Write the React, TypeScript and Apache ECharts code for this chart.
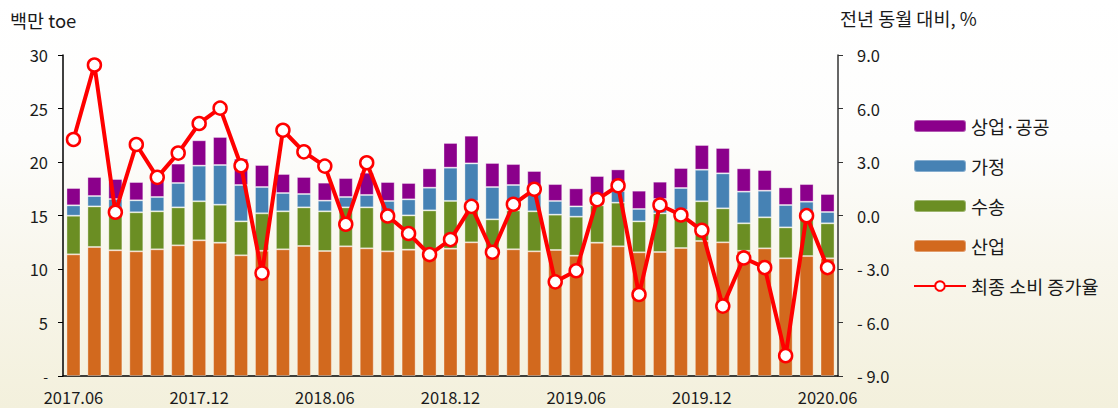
import React, { useEffect, useRef } from "react";
import * as echarts from "echarts";

const months: string[] = [
  "2017.06", "2017.07", "2017.08", "2017.09", "2017.10", "2017.11", "2017.12",
  "2018.01", "2018.02", "2018.03", "2018.04", "2018.05", "2018.06", "2018.07",
  "2018.08", "2018.09", "2018.10", "2018.11", "2018.12", "2019.01", "2019.02",
  "2019.03", "2019.04", "2019.05", "2019.06", "2019.07", "2019.08", "2019.09",
  "2019.10", "2019.11", "2019.12", "2020.01", "2020.02", "2020.03", "2020.04",
  "2020.05", "2020.06",
];

// 산업 (industry)
const industry: number[] = [
  11.37, 12.06, 11.75, 11.65, 11.84, 12.21, 12.68, 12.46, 11.28, 11.7, 11.84, 12.15,
  11.68, 12.12, 11.93, 11.65, 11.81, 11.7, 11.9, 12.49, 11.6, 11.84, 11.65, 11.78,
  11.25, 12.46, 12.12, 11.56, 11.59, 11.96, 12.62, 12.49, 11.7, 11.93, 11.0, 11.21, 11.0,
];
// 수송 (transport)
const transport: number[] = [
  3.61, 3.79, 3.85, 3.65, 3.55, 3.55, 3.65, 3.55, 3.17, 3.5, 3.55, 3.61,
  3.71, 3.64, 3.83, 3.62, 3.2, 3.78, 4.46, 3.84, 3.04, 3.64, 3.74, 3.3,
  3.64, 3.49, 4.08, 2.89, 3.61, 3.55, 3.71, 3.18, 2.57, 2.9, 2.89, 3.62, 3.27,
];
// 가정 (household)
const household: number[] = [
  0.97, 0.97, 0.94, 1.12, 1.34, 2.28, 3.33, 3.71, 3.4, 2.46, 1.71, 1.25,
  1.0, 0.97, 1.16, 1.09, 1.5, 2.12, 3.11, 3.54, 3.02, 2.37, 1.9, 1.28,
  0.96, 0.93, 1.09, 1.16, 1.34, 2.06, 2.95, 3.27, 2.96, 2.49, 2.09, 1.46, 1.06,
];
// 상업·공공 (commercial/public)
const commercial: number[] = [
  1.62, 1.78, 1.87, 1.71, 1.49, 1.81, 2.37, 2.62, 2.46, 2.06, 1.78, 1.59,
  1.68, 1.77, 2.08, 1.77, 1.53, 1.81, 2.31, 2.59, 2.25, 1.96, 1.87, 1.58,
  1.69, 1.81, 2.02, 1.71, 1.62, 1.87, 2.31, 2.37, 2.18, 1.93, 1.65, 1.65, 1.68,
];
// 최종 소비 증가율 (%)
const growth: number[] = [
  4.26, 8.44, 0.18, 3.98, 2.14, 3.5, 5.16, 6.02, 2.79, -3.23, 4.78, 3.57,
  2.77, -0.49, 2.96, -0.03, -1.01, -2.19, -1.35, 0.51, -2.06, 0.63, 1.47, -3.72,
  -3.1, 0.89, 1.67, -4.43, 0.59, 0.03, -0.83, -5.08, -2.38, -2.92, -7.86, -0.01, -2.92,
];

const FONT = "'Noto Sans CJK KR', 'Noto Sans', sans-serif";
const TXT = "#1a1a1a";

export default function App() {
  const ref = useRef<HTMLDivElement>(null);
  useEffect(() => {
    if (!ref.current) return;
    const chart = echarts.init(ref.current, undefined, { renderer: "svg" });
    const barBorder = { borderColor: "rgba(255,255,255,0.35)", borderWidth: 1 };
    chart.setOption({
      animation: false,
      backgroundColor: "transparent",
      textStyle: { fontFamily: FONT, color: TXT },
      grid: { left: 63, right: 280, top: 55, bottom: 32 },
      graphic: [
        { type: "text", left: 10, top: 11, style: { text: "백만 toe", fontSize: 18.5, fontFamily: FONT, fill: TXT } },
        { type: "text", left: 840, top: 9, style: { text: "전년 동월 대비, %", fontSize: 18.5, fontFamily: FONT, fill: TXT } },
      ],
      legend: {
        orient: "vertical",
        left: 908,
        top: 111,
        itemWidth: 52,
        itemHeight: 12,
        itemGap: 20,
        textStyle: { fontSize: 18.5, fontFamily: FONT, color: TXT, lineHeight: 20, padding: [0, 0, 0, 0] },
        data: ["상업·공공", "가정", "수송", "산업", "최종 소비 증가율"],
      },
      xAxis: {
        type: "category",
        data: months,
        boundaryGap: true,
        axisLine: { lineStyle: { color: "#000", width: 1.5 } },
        axisTick: { interval: 5, alignWithLabel: false, length: 6, lineStyle: { color: "#000" } },
        axisLabel: { interval: 5, fontSize: 16.5, color: TXT, margin: 12, lineHeight: 17, fontFamily: FONT },
      },
      yAxis: [
        {
          type: "value",
          min: 0,
          max: 30,
          interval: 5,
          splitLine: { show: false },
          axisLine: { show: true, lineStyle: { color: "#000", width: 1.5 } },
          axisTick: { show: true, length: 5, lineStyle: { color: "#000" } },
          axisLabel: {
            fontSize: 16.5,
            color: TXT,
            margin: 15,
            lineHeight: 12,
            fontFamily: FONT,
            formatter: (v: number) => (v === 0 ? "{d|-}" : String(v)),
            rich: { d: { fontSize: 14, lineHeight: 8, fontFamily: FONT, color: TXT } },
          },
        },
        {
          type: "value",
          min: -9,
          max: 9,
          interval: 3,
          splitLine: { show: false },
          axisLine: { show: true, lineStyle: { color: "#333", width: 1.5 } },
          axisTick: { show: true, length: 5, lineStyle: { color: "#333" } },
          axisLabel: {
            fontSize: 16.5,
            color: TXT,
            margin: 19,
            fontFamily: FONT,
            formatter: (v: number) => (v < 0 ? "- " + Math.abs(v).toFixed(1) : v.toFixed(1)),
          },
        },
      ],
      series: [
        { name: "산업", type: "bar", stack: "a", data: industry, barCategoryGap: "33%", itemStyle: { color: "#D2691E", ...barBorder } },
        { name: "수송", type: "bar", stack: "a", data: transport, itemStyle: { color: "#6B8E23", ...barBorder } },
        { name: "가정", type: "bar", stack: "a", data: household, itemStyle: { color: "#4682B4", ...barBorder } },
        { name: "상업·공공", type: "bar", stack: "a", data: commercial, itemStyle: { color: "#8B008B", ...barBorder } },
        {
          name: "최종 소비 증가율",
          type: "line",
          yAxisIndex: 1,
          data: growth,
          symbol: "circle",
          symbolSize: 13,
          lineStyle: { color: "#FF0000", width: 4 },
          itemStyle: { color: "#FFFFFF", borderColor: "#FF0000", borderWidth: 2.5 },
          z: 5,
        },
      ],
    });
    return () => chart.dispose();
  }, []);
  return (
    <div
      style={{
        position: "fixed",
        left: 0,
        top: 0,
        width: 1118,
        height: 408,
        background: "linear-gradient(to bottom, #ffffff 0%, #fdfdfc 35%, #f8f6ec 65%, #f3f0dc 100%)",
      }}
    >
      <div ref={ref} style={{ width: 1118, height: 408 }} />
    </div>
  );
}
